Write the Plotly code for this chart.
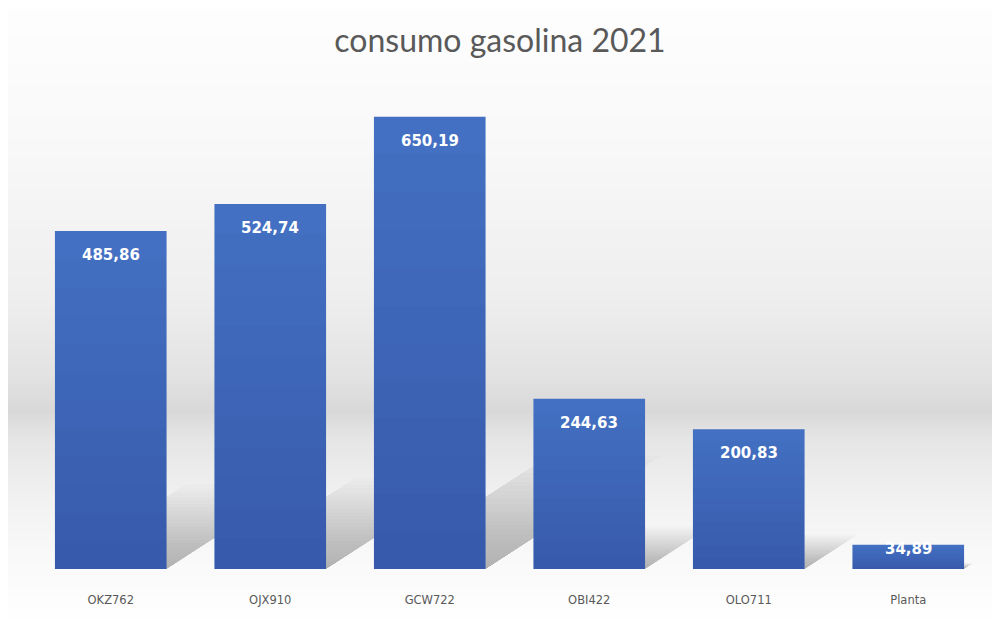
import plotly.graph_objects as go

# ---- data ----
categories = ["OKZ762", "OJX910", "GCW722", "OBI422", "OLO711", "Planta"]
values = [485.86, 524.74, 650.19, 244.63, 200.83, 34.89]
title_text = "consumo gasolina 2021"

# ---- layout constants (page body adds an 8px offset) ----
OFF = 8
W, H = 1000 - OFF, 619 - OFF
ML, MR, MT, MB = 31 - OFF, 12, 82 - OFF, 48
PLOT_H = H - MT - MB
PLOT_W = W - ML - MR
YMAX = 700
PX_PER_UNIT = PLOT_H / YMAX
N_CAT = len(categories)
PX_PER_CAT = PLOT_W / N_CAT
BARGAP = 0.3
half = (1 - BARGAP) / 2

fig = go.Figure()
fig.add_trace(go.Bar(
    x=list(range(N_CAT)),
    y=values,
    marker=dict(color="#4472C4", line=dict(width=0)),
    hoverinfo="skip",
    showlegend=False,
))

shapes = []
# background gradient (window pixel y -> gray level)
stops = [(0, 254), (150, 248), (300, 238), (380, 226), (412, 216), (440, 229),
         (500, 241), (560, 249), (619, 254)]

def gray_at(y):
    for (y0, g0), (y1, g1) in zip(stops[:-1], stops[1:]):
        if y0 <= y <= y1:
            t = (y - y0) / (y1 - y0)
            return g0 + t * (g1 - g0)
    return stops[-1][1]

band = 3
for yw in range(0, 619, band):
    g = int(round(gray_at(yw + band / 2)))
    y = yw - OFF
    p_top = (H - MB - y) / PLOT_H
    p_bot = (H - MB - (y + band)) / PLOT_H
    shapes.append(dict(type="rect", xref="paper", yref="paper",
                       x0=-ML / PLOT_W - 0.01, x1=1 + MR / PLOT_W + 0.01,
                       y0=p_bot - 0.001, y1=p_top + 0.001,
                       fillcolor=f"rgb({g},{g},{g})", line=dict(width=0),
                       layer="below"))

# perspective shadows behind each bar (fade toward the top)
n_layers = 26
for i, v in enumerate(values):
    sh = 0.25 * v
    dx = 0.385 * v * PX_PER_UNIT / PX_PER_CAT
    for k in range(1, n_layers + 1):
        f = k / n_layers
        path = (f"M {i - half} 0 L {i + half} 0 "
                f"L {i + half + dx * f} {sh * f} L {i - half + dx * f} {sh * f} Z")
        shapes.append(dict(type="path", xref="x", yref="y", path=path,
                           fillcolor="rgba(70,70,70,0.017)", line=dict(width=0),
                           layer="below"))

# subtle vertical gradient on each bar (darker toward the base)
g_layers = 12
for i, v in enumerate(values):
    for k in range(1, g_layers + 1):
        f = k / g_layers
        shapes.append(dict(type="rect", xref="x", yref="y",
                           x0=i - half, x1=i + half, y0=0, y1=v * f,
                           fillcolor="rgba(10,20,60,0.012)", line=dict(width=0),
                           layer="above"))

# value labels
annotations = []
for i, v in enumerate(values):
    hpx = v * PX_PER_UNIT
    off = min(24, hpx * 0.17)
    annotations.append(dict(
        x=i, y=v, xref="x", yref="y",
        text=f"{v:.2f}".replace(".", ","),
        showarrow=False, yshift=-off, yanchor="middle",
        font=dict(family="DejaVu Sans", size=15, color="white", weight="bold"),
    ))

fig.update_layout(
    width=W, height=H,
    margin=dict(l=ML, r=MR, t=MT, b=MB, pad=0),
    paper_bgcolor="white",
    plot_bgcolor="rgba(0,0,0,0)",
    bargap=BARGAP,
    shapes=shapes,
    annotations=annotations,
    title=dict(text=title_text, x=(500 - OFF - ML) / PLOT_W, xref="paper",
               xanchor="center", y=1 - (41 - OFF) / H,
               yanchor="middle", yref="container",
               font=dict(family="Lato", size=32, color="#595959")),
    xaxis=dict(
        tickmode="array", tickvals=list(range(N_CAT)), ticktext=categories,
        range=[-0.5, N_CAT - 0.5],
        showgrid=False, zeroline=False, showline=False, ticks="",
        ticklabelstandoff=22,
        tickfont=dict(family="DejaVu Sans", size=11.5, color="#595959"),
    ),
    yaxis=dict(range=[0, YMAX], visible=False, showgrid=False, zeroline=False),
)

fig.write_html("out.html")
